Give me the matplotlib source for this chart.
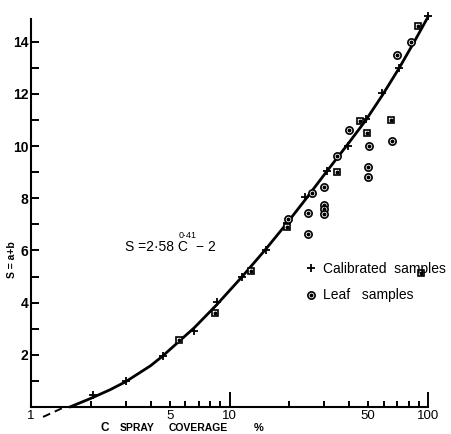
import matplotlib
matplotlib.use('Agg')
import matplotlib.pyplot as plt
from matplotlib.ticker import FixedLocator, FuncFormatter
from matplotlib.legend_handler import HandlerTuple

plt.rcParams['font.family'] = ['Liberation Sans', 'DejaVu Sans']
plt.rcParams['mathtext.default'] = 'regular'

# ---------------- data ----------------
# fitted curve (C %, S)
curve_c = [1.57, 2.0, 2.5, 3.0, 4.0, 4.6, 6.65, 8.6, 11.5, 15.2, 19.4, 24.0, 30.9, 39.7, 48.7, 58.9, 71.7, 85.0, 100.0]
curve_s = [0.0, 0.33, 0.66, 0.97, 1.58, 1.95, 3.04, 3.91, 4.97, 6.04, 7.03, 7.93, 9.03, 10.1, 11.0, 11.95, 13.0, 13.98, 14.95]
# dashed extrapolation below the axis
dash_c = [1.15, 1.45]
dash_s = [-0.38, -0.03]

# calibrated samples (+)
cal_c = [2.05, 3.0, 4.6, 6.65, 8.64, 11.5, 15.2, 19.4, 24.0, 30.9, 39.7, 48.7, 58.9, 71.7, 99.6]
cal_s = [0.47, 0.98, 1.95, 2.9, 4.03, 5.0, 6.0, 7.05, 8.05, 9.03, 10.01, 11.02, 12.02, 12.98, 15.0]

# leaf samples (round symbols)
leaf_c = [19.7, 24.9, 24.9, 25.9, 29.9, 29.9, 29.9, 29.9, 34.9, 40.2, 50.4, 50.0, 50.0, 66.0, 69.5, 82.0]
leaf_s = [7.2, 7.42, 6.63, 8.21, 8.42, 7.75, 7.58, 7.4, 9.62, 10.61, 10.01, 9.2, 8.8, 10.19, 13.5, 14.0]
# leaf samples (square symbols)
leafsq_c = [5.57, 8.45, 12.9, 19.4, 34.9, 45.2, 49.0, 64.9, 89.4, 91.9]
leafsq_s = [2.55, 3.59, 5.22, 6.9, 9.0, 10.97, 10.49, 11.0, 14.6, 5.12]

x_major = [1, 10, 100]
x_minor = [2, 3, 4, 5, 6, 7, 8, 9, 20, 30, 40, 50, 60, 70, 80, 90]
x_minor_labelled = [5, 50]
y_major = [2, 4, 6, 8, 10, 12, 14]
y_minor = [1, 3, 5, 7, 9, 11, 13]

legend_labels = ['Calibrated  samples', 'Leaf   samples']
equation = 'S =2·58 C'
equation_exp = '0·41'
equation_tail = '− 2'
ylabel = 'S = a+b'
xlabel_words = ['C', 'SPRAY', 'COVERAGE', '%']

# ---------------- figure ----------------
W, H = 451, 434
fig = plt.figure(figsize=(W / 100, H / 100), dpi=100)
ax = fig.add_axes([31 / W, 1 - 407 / H, (428 - 31) / W, (407 - 19) / H])
ax.set_xscale('log')
ax.set_xlim(1, 100)
ax.set_ylim(0, 14.87)

for s in ['top', 'right']:
    ax.spines[s].set_visible(False)
for s in ['left', 'bottom']:
    ax.spines[s].set_linewidth(1.5)

ax.plot(curve_c, curve_s, color='black', lw=2.0, clip_on=False, solid_capstyle='round',
        solid_joinstyle='round', zorder=3)
ax.plot(dash_c, dash_s, color='black', lw=1.4, ls=(0, (4, 2.6)), clip_on=False, zorder=3)

ax.plot(cal_c, cal_s, ls='none', marker='+', ms=6, mew=1.3, color='black', clip_on=False, zorder=4)

ring_kw = dict(ls='none', mfc='white', mec='black', mew=1.2, clip_on=False, zorder=5)
dot_kw = dict(ls='none', marker='o', ms=1.8, color='black', clip_on=False, zorder=6)
ax.plot(leaf_c, leaf_s, marker='o', ms=5.2, **ring_kw)
ax.plot(leaf_c, leaf_s, **dot_kw)
ax.plot(leafsq_c, leafsq_s, marker='s', ms=4.3, **ring_kw)
ax.plot(leafsq_c, leafsq_s, **dot_kw)

# ticks
ax.xaxis.set_major_locator(FixedLocator(x_major))
ax.xaxis.set_minor_locator(FixedLocator(x_minor))
ax.xaxis.set_major_formatter(FuncFormatter(lambda v, p: f'{v:g}'))
ax.xaxis.set_minor_formatter(FuncFormatter(lambda v, p: f'{v:g}' if round(v) in x_minor_labelled else ''))
ax.tick_params(axis='x', which='major', direction='in', length=10.8, width=1.4, pad=2, labelsize=9.5)
ax.tick_params(axis='x', which='minor', direction='in', length=4.5, width=1.4, pad=2, labelsize=9.5)

ax.yaxis.set_major_locator(FixedLocator(y_major))
ax.yaxis.set_minor_locator(FixedLocator(y_minor))
ax.yaxis.set_major_formatter(FuncFormatter(lambda v, p: f'{v:g}'))
ax.tick_params(axis='y', which='both', direction='in', length=5.8, width=1.4, pad=2, labelsize=10)
for lbl in ax.get_yticklabels():
    lbl.set_fontweight('bold')

# texts
fig.text(125 / W, 1 - 251 / H, equation, fontsize=10, ha='left', va='baseline')
fig.text(179 / W, 1 - 238 / H, equation_exp, fontsize=6.5, ha='left', va='baseline')
fig.text(196 / W, 1 - 251 / H, equation_tail, fontsize=10, ha='left', va='baseline')

fig.text(12 / W, 1 - 260 / H, ylabel, rotation=90, fontsize=7.5, fontweight='bold', ha='center', va='center')

xl_pos = [104.5, 137.5, 198.5, 259]
xl_size = [8.5, 7.5, 7.5, 8]
for word, xp, fs in zip(xlabel_words, xl_pos, xl_size):
    fig.text(xp / W, 1 - 428 / H, word, fontsize=fs, fontweight='bold', ha='center', va='center')

# legend
h_cal = plt.Line2D([], [], ls='none', marker='+', ms=6, mew=1.3, color='black')
h_ring = plt.Line2D([], [], ls='none', marker='o', mfc='white', mec='black', mew=1.2, ms=5.2)
h_dot = plt.Line2D([], [], ls='none', marker='o', ms=1.8, color='black')
fig.legend([h_cal, (h_ring, h_dot)], legend_labels,
           handler_map={tuple: HandlerTuple(ndivide=1)},
           loc='upper left', bbox_to_anchor=(304 / W, 1 - 262 / H),
           frameon=False, fontsize=10, handlelength=1.0, handletextpad=0.35,
           labelspacing=0.9, borderpad=0, borderaxespad=0)

fig.savefig('out.png', dpi=100)
